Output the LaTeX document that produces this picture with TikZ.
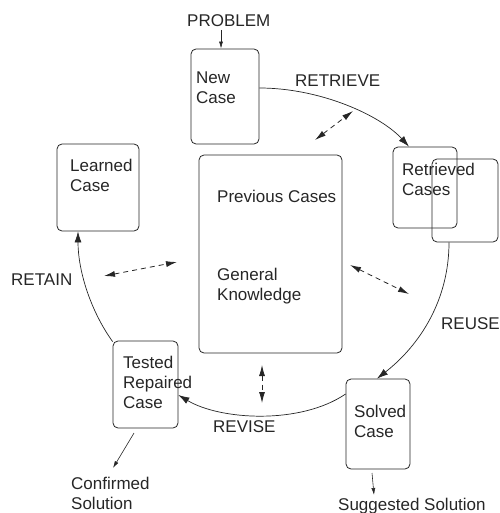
\documentclass[tikz,border=0pt]{standalone}
\usepackage{fontspec}
\setmainfont{Liberation Sans}
\usetikzlibrary{arrows.meta}
\definecolor{ink}{HTML}{262626}
\tikzset{
  box/.style={draw=ink, line width=0.8pt, rounded corners=5pt, inner sep=0pt},
  txt/.style={inner sep=0pt, anchor=base west, align=left, text=ink, font=\fontsize{17}{20}\selectfont},
  flow/.style={draw=ink, line width=0.7pt, -{Latex[length=11pt,width=7pt]}},
  thin arrow/.style={draw=ink, line width=0.6pt, -{Latex[length=7pt,width=4pt]}},
  link/.style={draw=ink, line width=0.8pt, dash pattern=on 5pt off 4pt, {Latex[length=11pt,width=6pt]}-{Latex[length=11pt,width=6pt]}}
}
\begin{document}
\begin{tikzpicture}[x=1pt,y=-1pt]
\useasboundingbox (0,0) rectangle (499,513);
% boxes
\node[box, minimum width=68pt, minimum height=95pt] (new) at (225,96.5) {};
\node[box, minimum width=64pt, minimum height=81pt] (ret1) at (425,187.5) {};
\node[box, minimum width=66pt, minimum height=83pt] (ret2) at (465,200.5) {};
\node[box, minimum width=143pt, minimum height=198pt] (kb) at (270.5,254) {};
\node[box, minimum width=82pt, minimum height=87pt] (learned) at (98,187.5) {};
\node[box, minimum width=65pt, minimum height=87pt] (tested) at (145.5,384.5) {};
\node[box, minimum width=64pt, minimum height=90pt] (solved) at (378,424) {};
% texts (base anchor = baseline of the last line)
\node[txt] (problem) at (187,27) {PROBLEM};
\node[txt] (newtxt) at (196,104) {New\\Case};
\node[txt] (retrieve) at (295,87) {RETRIEVE};
\node[txt] (rettxt) at (402,195) {Retrieved\\Cases};
\node[txt] (prev) at (217,202) {Previous Cases};
\node[txt] (gen) at (217,300) {General\\Knowledge};
\node[txt] (learnedtxt) at (70,191) {Learned\\Case};
\node[txt] (retain) at (11,285) {RETAIN};
\node[txt] (reuse) at (441,329) {REUSE};
\node[txt] (testedtxt) at (123,408) {Tested\\Repaired\\Case};
\node[txt] (solvedtxt) at (354,437) {Solved\\Case};
\node[txt] (revise) at (213,432) {REVISE};
\node[txt] (confirmed) at (71,509) {Confirmed\\Solution};
\node[txt] (suggested) at (338,510) {Suggested Solution};
% coordinates for free-floating links
\coordinate (d1a) at (315,140); \coordinate (d1b) at (353,111);
\coordinate (d2a) at (104,276); \coordinate (d2b) at (177,262);
\coordinate (d3a) at (350,265); \coordinate (d3b) at (409,294);
\coordinate (d4a) at (262,365); \coordinate (d4b) at (262,403);
\coordinate (c1) at (134,433); \coordinate (c2) at (113,468);
\coordinate (s1) at (372,473); \coordinate (s2) at (374,495);
% cycle
\draw[thin arrow] (221,30) -- ([xshift=-4pt]new.north);
\draw[flow] ([yshift=8.5pt]new.east) .. controls (320,88) and (380,115) .. ([xshift=-16pt]ret1.north);
\draw[flow] ([xshift=-16pt]ret2.south) .. controls (449,300) and (420,345) .. ([xshift=-1pt]solved.north);
\draw[flow] ([yshift=30pt]solved.west) .. controls (300,425) and (220,420) .. ([yshift=-10.5pt]tested.east);
\draw[flow] ([yshift=-1pt]tested.north west) .. controls (90,310) and (78,270) .. ([xshift=-20pt]learned.south);
% links to knowledge base
\draw[link] (d1a) -- (d1b);
\draw[link] (d2a) -- (d2b);
\draw[link] (d3a) -- (d3b);
\draw[link] (d4a) -- (d4b);
% outputs
\draw[thin arrow] (c1) -- (c2);
\draw[thin arrow] (s1) -- (s2);
\end{tikzpicture}
\end{document}
